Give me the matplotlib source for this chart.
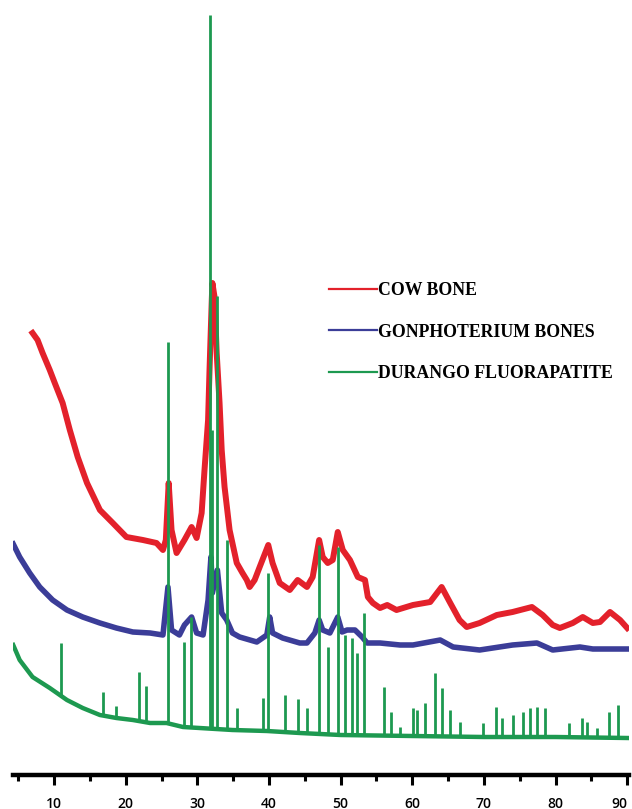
import matplotlib
matplotlib.use('Agg')
import matplotlib.pyplot as plt
from matplotlib.ticker import MultipleLocator

# 2-theta (deg) and intensity (arbitrary units)
cow_x = [7.0, 7.7, 8.4, 9.4, 10.1, 11.2, 12.2, 13.3, 14.6, 16.4, 18.2, 20.1, 22.4, 24.3,
         25.2, 25.6, 26.0, 26.4, 27.1, 28.2, 29.2, 29.9, 30.6, 31.0, 31.5, 31.7, 32.0, 32.1,
         32.4, 32.7, 33.1, 33.4, 33.8, 34.5, 35.5, 36.3, 36.9, 37.3, 38.0, 38.7, 39.9, 40.5,
         41.5, 42.9, 44.0, 45.3, 46.1, 47.0, 47.5, 48.2, 48.9, 49.6, 50.3, 51.3, 52.4, 53.4,
         53.8, 54.5, 55.5, 56.5, 57.8, 60.1, 62.5, 64.1, 65.3, 66.6, 67.6, 69.4, 71.8, 74.0,
         76.7, 78.2, 79.6, 80.6, 82.4, 83.8, 85.2, 86.2, 87.6, 89.0, 90.0]
cow_y = [440, 433, 420, 403, 390, 370, 343, 316, 290, 263, 250, 236, 233, 230,
         223, 233, 290, 243, 220, 233, 246, 235, 260, 303, 353, 403, 470, 490,
         476, 420, 370, 323, 286, 243, 210, 200, 193, 186, 193, 206, 228, 210,
         190, 183, 193, 186, 196, 233, 216, 210, 213, 241, 223, 213, 196, 193,
         176, 170, 165, 168, 163, 168, 171, 186, 170, 153, 146, 150, 158, 161,
         166, 158, 148, 145, 150, 156, 150, 151, 161, 153, 145]

gon_x = [4.3, 5.2, 6.6, 8.0, 9.8, 11.8, 14.0, 16.4, 18.7, 21.0, 23.4, 25.2, 25.9, 26.4,
         27.5, 28.2, 29.2, 29.9, 30.8, 31.5, 31.9, 32.1, 32.8, 33.4, 34.1, 34.9, 35.9, 38.3,
         39.7, 40.1, 40.5, 41.9, 44.3, 45.3, 46.4, 47.0, 47.5, 48.5, 49.6, 50.2, 50.9, 52.0,
         53.0, 53.7, 55.5, 58.3, 60.1, 63.9, 65.7, 69.4, 74.0, 77.4, 79.6, 83.4, 85.2, 90.0]
gon_y = [229, 216, 200, 186, 173, 163, 156, 150, 145, 141, 140, 138, 186, 143,
         138, 148, 156, 140, 138, 173, 216, 180, 203, 160, 153, 140, 136, 131,
         138, 156, 140, 135, 130, 130, 140, 153, 143, 140, 156, 141, 143, 143,
         136, 130, 130, 128, 128, 133, 126, 123, 128, 130, 123, 126, 124, 124]

dur_x = [4.3, 5.2, 7.0, 9.4, 11.8, 14.0, 16.4, 18.7, 21.0, 23.4, 25.7, 28.0, 30.3, 34.9,
         39.7, 44.3, 50.0, 60.0, 70.0, 80.0, 90.0]
dur_y = [128, 113, 96, 85, 73, 65, 58, 55, 53, 50, 50, 46, 45, 43,
         42, 40, 38, 37, 36, 36, 35]

# sharp reflections of the fluorapatite pattern
peak_x = [10.9, 16.9, 18.7, 21.8, 22.9, 25.9, 28.1, 29.1, 31.7, 32.1,
          32.8, 34.1, 35.6, 39.1, 39.9, 42.2, 44.0, 45.3, 47.0, 48.3,
          49.6, 50.6, 51.6, 52.3, 53.2, 56.0, 57.1, 58.3, 60.1, 60.6,
          61.8, 63.2, 64.1, 65.3, 66.6, 69.9, 71.7, 72.5, 74.0, 75.4,
          76.4, 77.4, 78.5, 81.9, 83.7, 84.4, 85.8, 87.5, 88.7]
peak_top = [130, 81, 67, 101, 87, 431, 131, 156, 758, 343,
            477, 233, 65, 75, 200, 78, 74, 65, 228, 126,
            226, 138, 135, 120, 160, 86, 61, 46, 65, 63,
            70, 100, 85, 63, 51, 50, 66, 55, 58, 61,
            65, 66, 65, 50, 55, 51, 45, 61, 68]
peak_base = [78, 58, 55, 52, 51, 50, 46, 46, 44, 44,
             44, 43, 43, 42, 42, 41, 40, 40, 39, 39,
             38, 38, 38, 38, 38, 37, 37, 37, 37, 37,
             37, 37, 37, 37, 37, 36, 36, 36, 36, 36,
             36, 36, 36, 36, 36, 36, 35, 35, 35]

labels = ['COW BONE', 'GONPHOTERIUM BONES', 'DURANGO FLUORAPATITE']
colors = ['#e3212b', '#3b3d98', '#1d9950']

fig = plt.figure(figsize=(6.32, 8.09), dpi=100)
ax = fig.add_axes([13 / 632, 34 / 809, 616 / 632, 775 / 809])

ax.plot(cow_x, cow_y, color=colors[0], lw=4.3, solid_joinstyle='round', label=labels[0])
ax.plot(gon_x, gon_y, color=colors[1], lw=4.0, solid_joinstyle='round', label=labels[1])
ax.plot(dur_x, dur_y, color=colors[2], lw=3.2, solid_joinstyle='round', label=labels[2])
ax.vlines(peak_x, peak_base, peak_top, color=colors[2], lw=2.0)

ax.set_xlim(4.27, 90.25)
ax.set_ylim(-2, 773)

for side in ['top', 'left', 'right']:
    ax.spines[side].set_visible(False)
ax.spines['bottom'].set_linewidth(3.2)
ax.set_yticks([])
ax.xaxis.set_major_locator(MultipleLocator(10))
ax.xaxis.set_minor_locator(MultipleLocator(5))
ax.set_xticks(range(10, 91, 10))
ax.tick_params(axis='x', which='major', length=7.5, width=2.2, pad=8,
               labelsize=10)
ax.tick_params(axis='x', which='minor', length=4.5, width=2.2)
ticklabels = ax.get_xticklabels()
for t in ticklabels:
    t.set_fontfamily('Open Sans')
    t.set_fontweight('semibold')
# last label sits against the right edge
ticklabels[-1].set_horizontalalignment('right')

leg = ax.legend(loc='upper left', bbox_to_anchor=(329 / 632, 1 - 282 / 809),
                bbox_transform=fig.transFigure, frameon=False,
                borderpad=0, borderaxespad=0, handlelength=2.7, handletextpad=0.08,
                labelspacing=1.38,
                prop={'family': 'Liberation Serif', 'weight': 'bold', 'size': 12.8})
for line in leg.get_lines():
    line.set_linewidth(1.6)

fig.savefig('out.png', dpi=100)
